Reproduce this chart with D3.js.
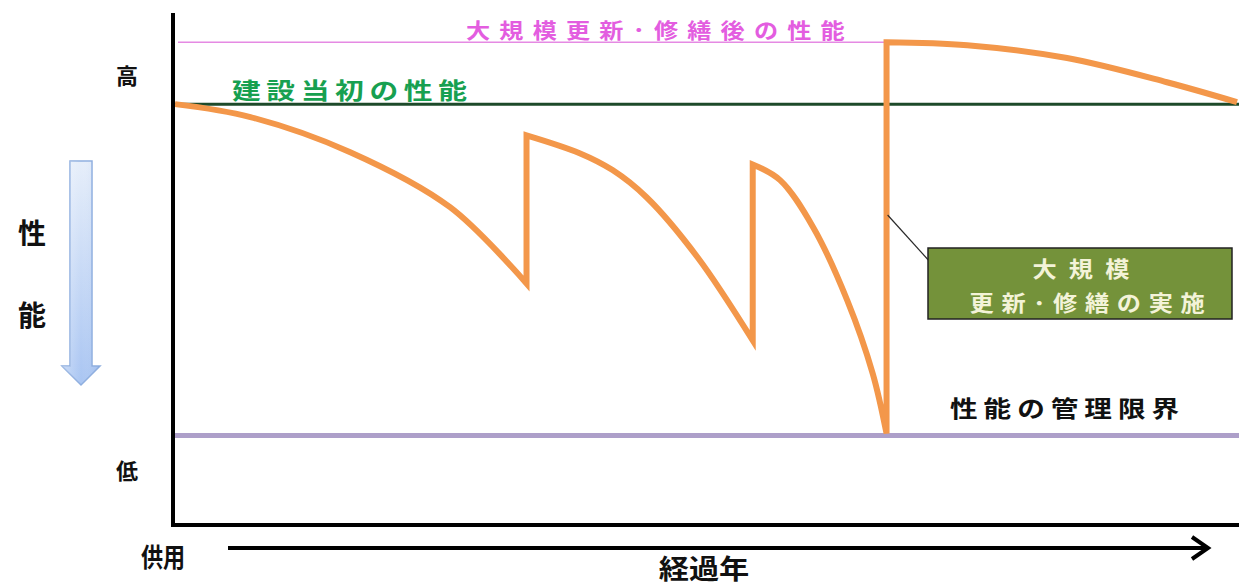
<!DOCTYPE html>
<html><head><meta charset="utf-8">
<script src="https://cdn.jsdelivr.net/npm/d3@7"></script>
<style>
html,body{margin:0;padding:0;background:#fff;}
svg{display:block;}
text{font-family:"Noto Sans CJK JP","Noto Sans CJK SC",sans-serif;font-weight:700;}
</style></head>
<body>
<svg id="c" width="1239" height="587"></svg>
<script>
// ---- data (years 0..100, performance: limit = 0, initial = 100) ----
const initialPerf = 100;
const renewedPerf = 118.7;
const limitPerf = 0;
const seg1 = [[0,100],[7.1,96.1],[16.5,85.5],[25.9,68.9],[33.1,45.9]];
const seg2 = [[33.1,90.6],[38.1,85.2],[41.2,80.1],[44.4,71.9],[49.2,53.8],[54.4,28.7]];
const seg3 = [[54.4,81.8],[57.0,77.0],[60.1,62.8],[63.3,40.8],[65.7,18.7],[67.0,0.6]];
const seg4 = [[67.0,118.7],[74.6,117.8],[84.0,113.9],[93.4,106.6],[100,100.6]];
const segments = [seg1, seg2, seg3, seg4];
const yLabels = ["高","低"];
const yTitle = ["性","能"];
const xStart = "供用";
const xTitle = "経過年";
const lineLabels = ["建設当初の性能","大規模更新･修繕後の性能","性能の管理限界"];
const calloutLines = ["大規模","更新･修繕の実施"];

const svg = d3.select("#c");
const x = d3.scaleLinear().domain([0,100]).range([175,1237]);
const y = d3.scaleLinear().domain([-27,127.5]).range([525,13]);

// defs
const defs = svg.append("defs");
const g1 = defs.append("linearGradient").attr("id","blueg").attr("x1",0).attr("y1",0).attr("x2",0).attr("y2",1);
g1.append("stop").attr("offset","0%").attr("stop-color","#e6eefa");
g1.append("stop").attr("offset","100%").attr("stop-color","#a9c5f2");
const g2 = defs.append("linearGradient").attr("id","blueh").attr("x1",0).attr("y1",0).attr("x2",1).attr("y2",0);
g2.append("stop").attr("offset","0%").attr("stop-color","#ffffff").attr("stop-opacity",0.35);
g2.append("stop").attr("offset","50%").attr("stop-color","#ffffff").attr("stop-opacity",0);
g2.append("stop").attr("offset","100%").attr("stop-color","#6f96d8").attr("stop-opacity",0.2);

// pink renewed line
svg.append("line").attr("x1",x(0)+3).attr("x2",x(67.2)).attr("y1",y(renewedPerf)).attr("y2",y(renewedPerf))
  .attr("stroke","#e58ae3").attr("stroke-width",1.5);
svg.append("text").attr("transform","translate(466,38) scale(1.15,1)").attr("font-size",21).attr("letter-spacing",8)
  .attr("fill","#e35de0").text(lineLabels[1]);

// initial performance line
svg.append("line").attr("x1",x(0)).attr("x2",1239).attr("y1",y(initialPerf)).attr("y2",y(initialPerf))
  .attr("stroke","#1d4a2a").attr("stroke-width",3);
svg.append("text").attr("transform","translate(232,99) scale(1.25,1)").attr("font-size",23).attr("letter-spacing",4.5)
  .attr("fill","#17a050").text(lineLabels[0]);

// limit line
svg.append("line").attr("x1",x(0)).attr("x2",1239).attr("y1",y(limitPerf)).attr("y2",y(limitPerf))
  .attr("stroke","#ad9fc9").attr("stroke-width",5);
svg.append("text").attr("transform","translate(950,417) scale(1.2,1)").attr("font-size",23).attr("letter-spacing",5)
  .attr("fill","#111").text(lineLabels[2]);

// performance curve
const line = d3.line().x(d=>x(d[0])).y(d=>y(d[1])).curve(d3.curveCatmullRom.alpha(0.5));
const dPath = segments.map((s,i)=>{ const p = line(s); return i===0 ? p : "L" + p.slice(1); }).join("");
svg.append("path").attr("d",dPath).attr("fill","none").attr("stroke","#f3974a")
  .attr("stroke-width",6).attr("stroke-linejoin","miter").attr("stroke-miterlimit",4);

// callout
svg.append("line").attr("x1",x(67.1)).attr("y1",215).attr("x2",931).attr("y2",263)
  .attr("stroke","#2a2a2a").attr("stroke-width",1.2);
svg.append("rect").attr("x",928).attr("y",248).attr("width",304).attr("height",71)
  .attr("fill","#74923a").attr("stroke","#222").attr("stroke-width",1.5);
svg.append("text").attr("transform","translate(1087,277) scale(1.1,1)").attr("text-anchor","middle").attr("font-size",22)
  .attr("letter-spacing",11).attr("fill","#f3f3d8").text(calloutLines[0]);
svg.append("text").attr("transform","translate(1091,311) scale(1.1,1)").attr("text-anchor","middle").attr("font-size",22)
  .attr("letter-spacing",7).attr("fill","#f3f3d8").text(calloutLines[1]);

// axes
svg.append("line").attr("x1",x(0)-2).attr("x2",x(0)-2).attr("y1",y(127.5)).attr("y2",y(-27)+2)
  .attr("stroke","#000").attr("stroke-width",4);
svg.append("line").attr("x1",x(0)-4).attr("x2",1239).attr("y1",y(-27)).attr("y2",y(-27))
  .attr("stroke","#000").attr("stroke-width",4);

// y labels
svg.append("text").attr("x",127).attr("y",84).attr("text-anchor","middle").attr("font-size",22).attr("fill","#111").text(yLabels[0]);
svg.append("text").attr("x",127).attr("y",479).attr("text-anchor","middle").attr("font-size",22).attr("fill","#111").text(yLabels[1]);
svg.append("text").attr("x",32).attr("y",244).attr("text-anchor","middle").attr("font-size",28).attr("fill","#111").text(yTitle[0]);
svg.append("text").attr("x",32).attr("y",326).attr("text-anchor","middle").attr("font-size",28).attr("fill","#111").text(yTitle[1]);

// blue down arrow
const arrowPts = [[70,161],[92,161],[92,366],[100,366],[81,385],[62,366],[70,366]];
svg.append("path").attr("d","M"+arrowPts.map(p=>p.join(",")).join("L")+"Z")
  .attr("fill","url(#blueg)").attr("stroke","#8eaedf").attr("stroke-width",1.5);
svg.append("path").attr("d","M"+arrowPts.map(p=>p.join(",")).join("L")+"Z")
  .attr("fill","url(#blueh)").attr("stroke","none");

// bottom time arrow
svg.append("line").attr("x1",228).attr("x2",1206).attr("y1",548).attr("y2",548)
  .attr("stroke","#000").attr("stroke-width",4);
svg.append("path").attr("d","M1192,537L1208,548L1192,559").attr("fill","none")
  .attr("stroke","#000").attr("stroke-width",4).attr("stroke-linejoin","miter");
svg.append("text").attr("transform","translate(163,567) scale(0.85,1)").attr("text-anchor","middle")
  .attr("font-size",26).attr("fill","#111").text(xStart);
svg.append("text").attr("transform","translate(704,579) scale(1.12,1)").attr("text-anchor","middle")
  .attr("font-size",27).attr("fill","#111").text(xTitle);
</script>
</body></html>
